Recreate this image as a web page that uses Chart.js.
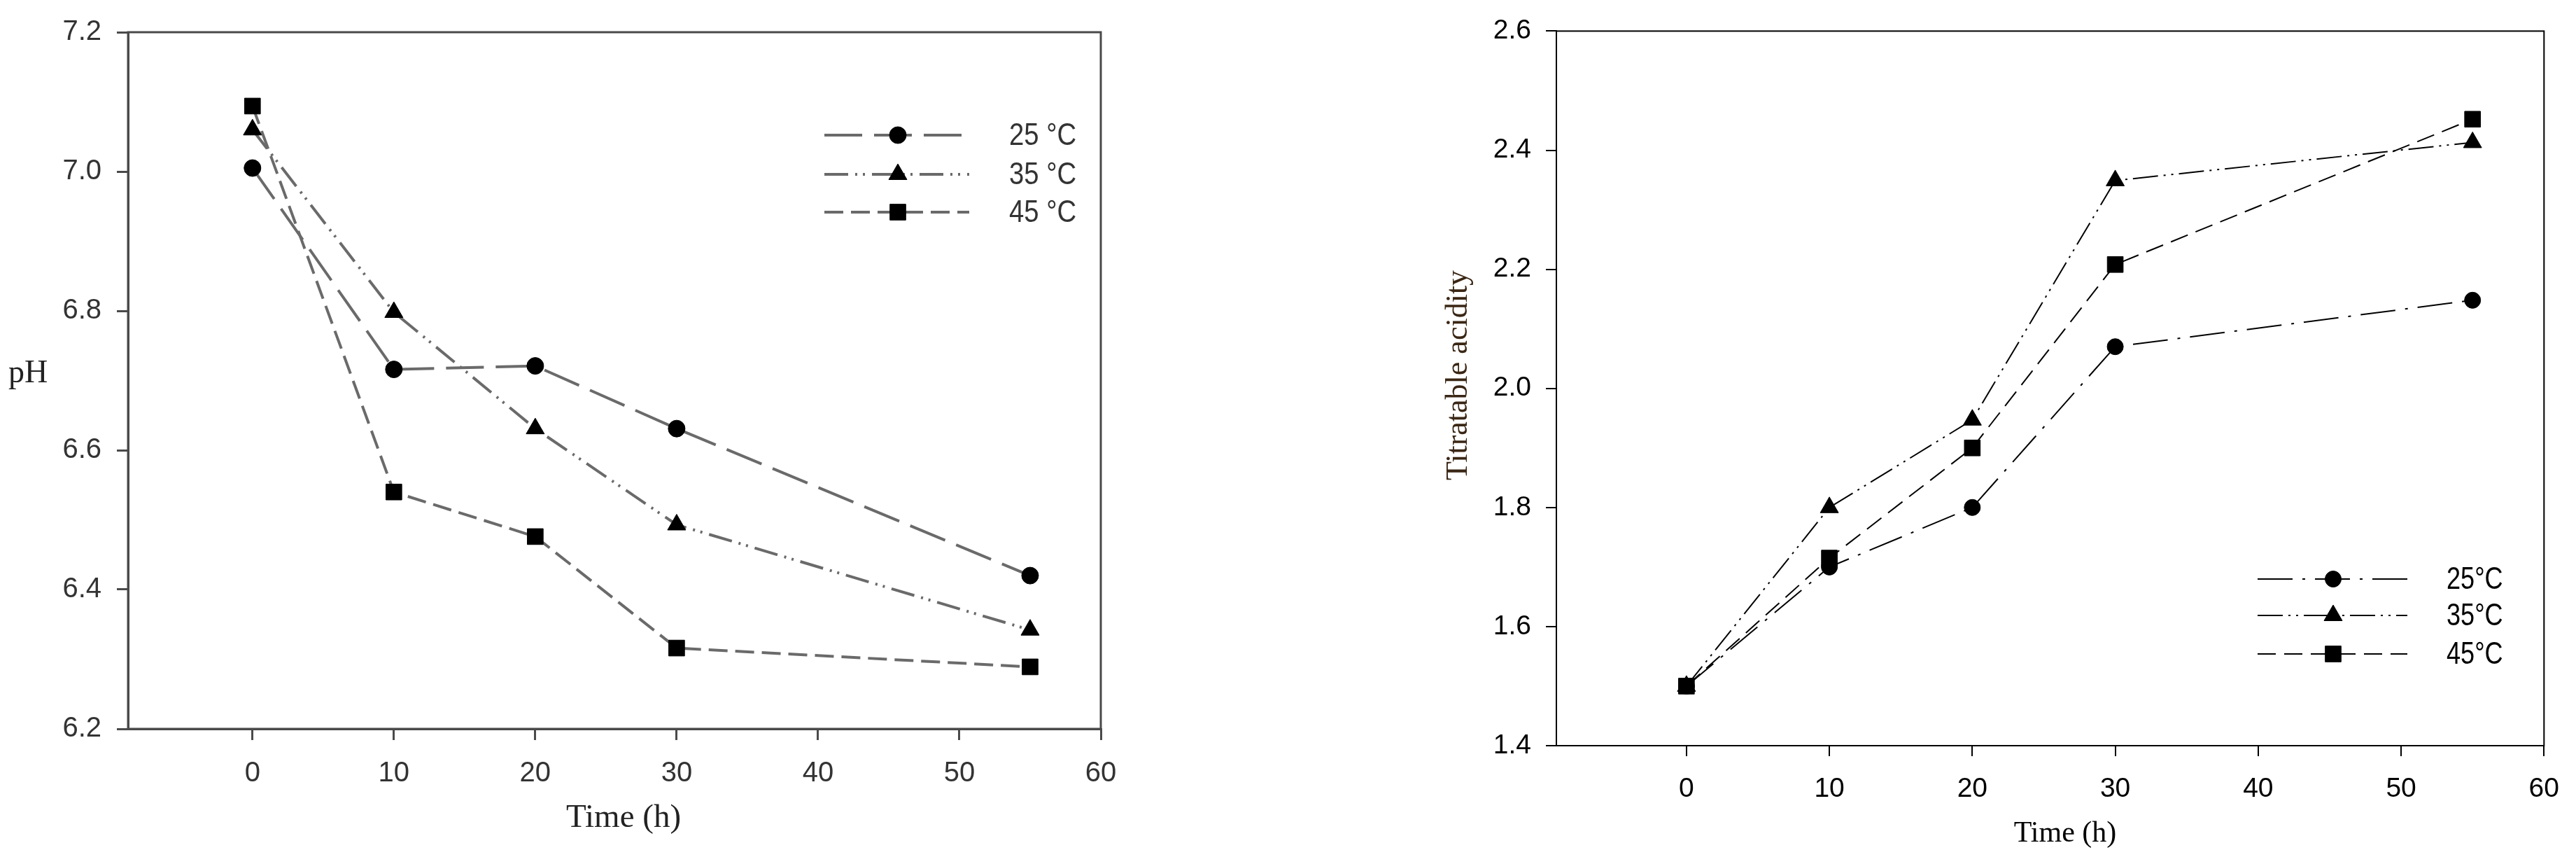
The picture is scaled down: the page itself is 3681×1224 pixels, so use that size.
<!DOCTYPE html>
<html>
<head>
<meta charset="utf-8">
<script src="https://cdn.jsdelivr.net/npm/chart.js@4"></script>
<style>
  html, body { margin: 0; padding: 0; background: #fff; }
  body { width: 3681px; height: 1224px; position: relative; overflow: hidden; }
  canvas { position: absolute; top: 0; }
  #phChart { left: 0; }
  #acidChart { left: 1840px; }
</style>
</head>
<body>
<canvas id="phChart" width="1840" height="1224"></canvas>
<canvas id="acidChart" width="1841" height="1224"></canvas>
<script>
// Datos
const tiempos = [0, 10, 20, 30, 55];
const etiquetasPH = ['25 °C', '35 °C', '45 °C'];
const etiquetasAcidez = ['25°C', '35°C', '45°C'];

const ph25 = [7.005, 6.716, 6.721, 6.631, 6.420];
const ph35 = [7.060, 6.798, 6.631, 6.493, 6.342];
const ph45 = [7.094, 6.540, 6.476, 6.316, 6.289];

const acidez25 = [1.50, 1.70, 1.80, 2.07, 2.148];
const acidez35 = [1.50, 1.80, 1.947, 2.349, 2.413];
const acidez45 = [1.50, 1.715, 1.90, 2.208, 2.452];

const ticksTiempo = [0, 10, 20, 30, 40, 50, 60];
const ticksPH = [6.2, 6.4, 6.6, 6.8, 7.0, 7.2];
const ticksAcidez = [1.4, 1.6, 1.8, 2.0, 2.2, 2.4, 2.6];

const fuenteSans = "'Liberation Sans', Arial, sans-serif";
const fuenteSerif = "'Liberation Serif', 'DejaVu Serif', serif";

// Dibuja un marcador igual que los puntos de la serie
function dibujarMarcador(ctx, estilo, radio, x, y) {
    ctx.save();
    ctx.setLineDash([]);
    ctx.fillStyle = '#000';
    ctx.strokeStyle = '#000';
    ctx.lineWidth = 1;
    if (Chart.helpers && Chart.helpers.drawPoint) {
        Chart.helpers.drawPoint(ctx, { pointStyle: estilo, radius: radio, rotation: 0, borderWidth: 1 }, x, y);
    } else {
        ctx.beginPath();
        if (estilo === 'circle') ctx.arc(x, y, radio, 0, Math.PI * 2);
        else if (estilo === 'rect') { const s = radio * Math.SQRT1_2; ctx.rect(x - s, y - s, 2 * s, 2 * s); }
        else { ctx.moveTo(x, y - radio); ctx.lineTo(x + radio * 0.866, y + radio / 2); ctx.lineTo(x - radio * 0.866, y + radio / 2); ctx.closePath(); }
        ctx.fill();
    }
    ctx.restore();
}

// Marco completo, leyenda y títulos de ejes
const pluginMarco = {
    id: 'marco',
    afterDraw(chart, args, opts) {
        const ctx = chart.ctx;
        const a = chart.chartArea;
        ctx.save();

        // caja del gráfico
        ctx.strokeStyle = opts.colorEje;
        ctx.lineWidth = opts.grosorEje;
        ctx.setLineDash([]);
        ctx.strokeRect(a.left, a.top, a.right - a.left, a.bottom - a.top);

        // leyenda (texto estrecho: se comprime en horizontal)
        const ley = opts.leyenda;
        chart.data.datasets.forEach((ds, i) => {
            const y = ley.filas[i];
            ctx.save();
            ctx.strokeStyle = ds.borderColor;
            ctx.lineWidth = ds.borderWidth;
            ctx.setLineDash(ds.borderDash);
            ctx.beginPath();
            ctx.moveTo(ley.x0, y);
            ctx.lineTo(ley.x1, y);
            ctx.stroke();
            ctx.restore();
            dibujarMarcador(ctx, ds.pointStyle, ds.pointRadius, ley.xMarcador, y);
            ctx.save();
            ctx.translate(ley.xTexto, y + 2);
            ctx.scale(ley.escalaX, 1);
            ctx.fillStyle = ley.color;
            ctx.font = ley.fuente;
            ctx.textAlign = 'left';
            ctx.textBaseline = 'middle';
            ctx.fillText(ds.label, 0, 0);
            ctx.restore();
        });

        // títulos de ejes
        opts.titulos.forEach(t => {
            ctx.save();
            ctx.translate(t.x, t.y);
            if (t.rotar) ctx.rotate(-Math.PI / 2);
            ctx.fillStyle = t.color;
            ctx.font = t.fuente;
            ctx.textAlign = 'center';
            ctx.textBaseline = 'middle';
            ctx.fillText(t.texto, 0, 0);
            ctx.restore();
        });
        ctx.restore();
    }
};

function serie(etiqueta, valores, estilo, radio, guiones, color, grosor) {
    return {
        label: etiqueta,
        data: tiempos.map((t, i) => ({ x: t, y: valores[i] })),
        borderColor: color,
        borderWidth: grosor,
        borderDash: guiones,
        pointStyle: estilo,
        pointRadius: radio,
        pointBackgroundColor: '#000',
        pointBorderColor: '#000',
        pointBorderWidth: 1,
        tension: 0,
        fill: false
    };
}

function ejes(cfg) {
    const grid = { drawOnChartArea: false, drawTicks: true, tickLength: cfg.tick, color: cfg.colorEje, lineWidth: cfg.grosorEje };
    const borde = { display: true, color: cfg.colorEje, width: cfg.grosorEje };
    return {
        x: {
            type: 'linear', bounds: 'data', min: cfg.minX, max: 60,
            afterBuildTicks: s => { s.ticks = ticksTiempo.map(v => ({ value: v })); },
            afterFit: s => { s.height = cfg.altoX; },
            grid, border: borde,
            ticks: { autoSkip: false, maxRotation: 0, padding: cfg.padX, color: cfg.colorTexto, font: { family: fuenteSans, size: cfg.tamTick } }
        },
        y: {
            type: 'linear', bounds: 'data', min: cfg.ticksY[0], max: cfg.ticksY[cfg.ticksY.length - 1],
            afterBuildTicks: s => { s.ticks = cfg.ticksY.map(v => ({ value: v })); },
            afterFit: s => { s.width = cfg.anchoY; },
            grid, border: borde,
            ticks: { autoSkip: false, padding: cfg.padY, color: cfg.colorTexto, font: { family: fuenteSans, size: cfg.tamTick }, callback: v => Number(v).toFixed(1) }
        }
    };
}

// --- GRÁFICO pH ---
const grisPH = '#6a6a6a';
new Chart(document.getElementById('phChart'), {
    type: 'line',
    data: {
        datasets: [
            serie(etiquetasPH[0], ph25, 'circle', 12, [54, 17], grisPH, 4),
            serie(etiquetasPH[1], ph35, 'triangle', 15, [34, 10, 3, 8, 3, 10], grisPH, 4),
            serie(etiquetasPH[2], ph45, 'rect', 16, [27, 11], grisPH, 4)
        ]
    },
    options: {
        responsive: false,
        animation: false,
        devicePixelRatio: 1,
        layout: { padding: { left: 0, top: 38, right: 267, bottom: 0 } },
        scales: ejes({ minX: -8.8, ticksY: ticksPH, altoX: 183, anchoY: 183, tick: 16, padX: 24, padY: 22,
                       tamTick: 40, colorEje: '#4a4a4a', grosorEje: 3, colorTexto: '#333' }),
        plugins: {
            legend: { display: false },
            tooltip: { enabled: false },
            marco: {
                colorEje: '#4a4a4a', grosorEje: 3,
                leyenda: { x0: 1178, x1: 1385, xMarcador: 1283, xTexto: 1442, filas: [193, 249, 303],
                           fuente: '44px ' + fuenteSans, escalaX: 0.87, color: '#333' },
                titulos: [
                    { texto: 'pH', x: 40, y: 534, fuente: '46px ' + fuenteSerif, color: '#222' },
                    { texto: 'Time (h)', x: 891, y: 1169, fuente: '47px ' + fuenteSerif, color: '#222' }
                ]
            }
        }
    },
    plugins: [pluginMarco]
});

// --- GRÁFICO ACIDEZ TITULABLE ---
new Chart(document.getElementById('acidChart'), {
    type: 'line',
    data: {
        datasets: [
            serie(etiquetasAcidez[0], acidez25, 'circle', 11.5, [50, 14, 4, 14], '#000', 2),
            serie(etiquetasAcidez[1], acidez35, 'triangle', 15, [36, 8, 3, 8, 3, 8], '#000', 2),
            serie(etiquetasAcidez[2], acidez45, 'rect', 16, [26, 12], '#000', 2)
        ]
    },
    options: {
        responsive: false,
        animation: false,
        devicePixelRatio: 1,
        layout: { padding: { left: 0, top: 40, right: 34, bottom: 0 } },
        scales: ejes({ minX: -9.1, ticksY: ticksAcidez, altoX: 159, anchoY: 384, tick: 15, padX: 24, padY: 21,
                       tamTick: 39, colorEje: '#000', grosorEje: 2, colorTexto: '#000' }),
        plugins: {
            legend: { display: false },
            tooltip: { enabled: false },
            marco: {
                colorEje: '#000', grosorEje: 2,
                leyenda: { x0: 1386, x1: 1600, xMarcador: 1494, xTexto: 1656, filas: [827, 879, 934],
                           fuente: '44px ' + fuenteSans, escalaX: 0.82, color: '#000' },
                titulos: [
                    { texto: 'Titratable acidity', x: 244, y: 536, rotar: true, fuente: '44px ' + fuenteSerif, color: '#3a2614' },
                    { texto: 'Time (h)', x: 1111, y: 1191, fuente: '42px ' + fuenteSerif, color: '#000' }
                ]
            }
        }
    },
    plugins: [pluginMarco]
});
</script>
</body>
</html>
